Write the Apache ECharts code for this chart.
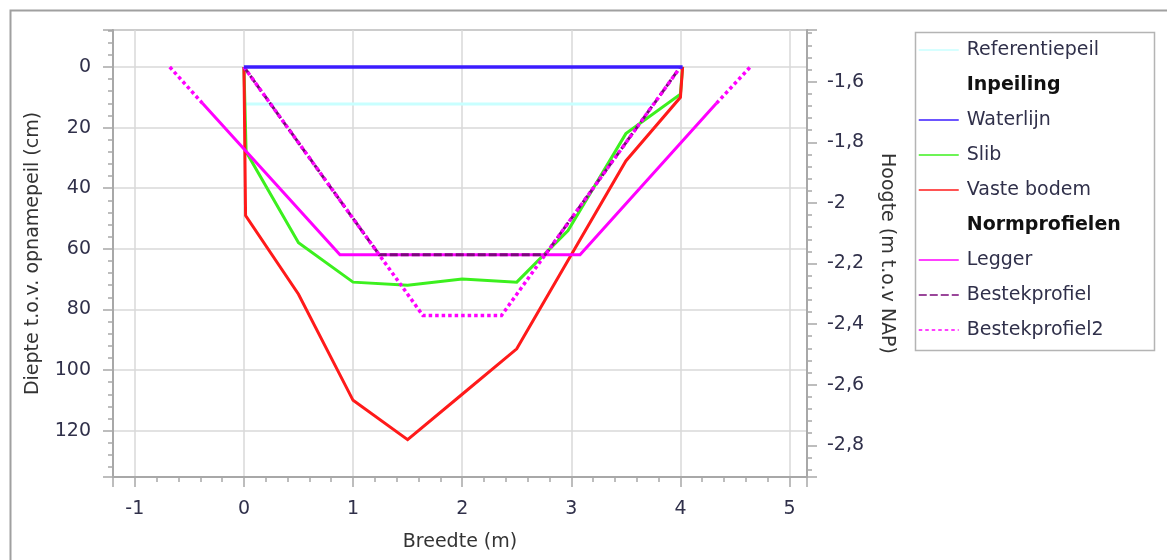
<!DOCTYPE html>
<html><head><meta charset="utf-8">
<script src="https://cdn.jsdelivr.net/npm/echarts@6/dist/echarts.min.js"></script>
<style>html,body{margin:0;padding:0;background:#fff}#c{width:1167px;height:560px}</style>
</head><body><div id="c"></div>
<script>
// ---- data (x = Breedte in m, y = Diepte t.o.v. opnamepeil in cm) ----
const referentiepeil = [[0, 12.2], [3.76, 12.2]];
const waterlijn = [[0, 0], [4.02, 0]];
const slib = [[0, 0], [0.02, 28], [0.5, 58], [1, 71], [1.5, 72], [2, 70], [2.5, 71], [2.97, 54], [3.5, 22], [4, 9], [4.02, 0]];
const vasteBodem = [[0, 0], [0.015, 49], [0.5, 75], [1, 110], [1.5, 123], [2, 108], [2.5, 93], [3, 62], [3.5, 31], [4, 10], [4.02, 0]];
const legger = [[-0.38, 12], [0.88, 62], [3.08, 62], [4.33, 12]];
const leggerExtLeft = [[-0.68, 0], [-0.38, 12]];
const leggerExtRight = [[4.33, 12], [4.64, 0]];
const bestekprofiel = [[0, 0], [1.24, 62], [2.76, 62], [4, 0]];
const bestekprofiel2 = [[0, 0], [1.64, 82], [2.36, 82], [4, 0]];

const legendNames = ['Referentiepeil', 'Inpeiling', 'Waterlijn', 'Slib', 'Vaste bodem', 'Normprofielen', 'Legger', 'Bestekprofiel', 'Bestekprofiel2'];
const legendHeaders = ['Inpeiling', 'Normprofielen'];

// axis ranges
const xRange = [-1.2, 5.16];
const depthRange = [-12.2, 135.3];
const napAtZero = -1.5515; // m t.o.v. NAP at depth 0

const FONT = 'DejaVu Sans';
const FS = 19;
const LABEL_COLOR = '#30304a';
const AXIS_COLOR = '#a8a8a8';
const GRID_COLOR = '#d9d9d9';

const chart = echarts.init(document.getElementById('c'), null, {renderer: 'canvas'});

const tickStyle = {color: AXIS_COLOR, width: 1.5};
function baseAxis() {
  return {
    type: 'value',
    axisLine: {show: true, onZero: false, lineStyle: {color: AXIS_COLOR, width: 2}},
    axisTick: {show: true, length: 10, lineStyle: tickStyle},
    minorTick: {show: true, splitNumber: 5, length: 5, lineStyle: tickStyle},
    axisLabel: {showMinLabel: false, showMaxLabel: false, fontFamily: FONT, fontSize: FS, color: LABEL_COLOR},
    nameTextStyle: {fontFamily: FONT, fontSize: FS, color: '#333333'},
    nameLocation: 'middle'
  };
}

const xAxis = Object.assign(baseAxis(), {
  min: xRange[0], max: xRange[1], minInterval: 1, maxInterval: 1,
  splitLine: {show: true, lineStyle: {color: GRID_COLOR, width: 1.5}},
  name: 'Breedte (m)', nameGap: 56
});
xAxis.axisLabel.margin = 23;

const yLeft = Object.assign(baseAxis(), {
  position: 'left', inverse: true,
  min: depthRange[0], max: depthRange[1], minInterval: 20, maxInterval: 20,
  splitLine: {show: true, lineStyle: {color: GRID_COLOR, width: 1.5}},
  name: 'Diepte t.o.v. opnamepeil (cm)', nameGap: 70
});
yLeft.axisLabel.margin = 22;

const yRight = Object.assign(baseAxis(), {
  position: 'right',
  min: napAtZero - depthRange[1] / 100, max: napAtZero - depthRange[0] / 100,
  minInterval: 0.2, maxInterval: 0.2,
  splitLine: {show: false},
  name: 'Hoogte (m t.o.v NAP)', nameGap: 70, nameRotate: -90
});
yRight.axisLabel.margin = 20;
yRight.axisLabel.formatter = v => String(Math.round(v * 100) / 100).replace('.', ',');

function lineSeries(name, data, color, width, type) {
  return {
    name: name, type: 'line', data: data, symbol: 'none', showSymbol: false,
    xAxisIndex: 0, yAxisIndex: 0, animation: false, silent: true,
    lineStyle: {color: color, width: width, type: type || 'solid', cap: 'butt', join: 'miter'},
    itemStyle: {color: color}
  };
}

const hidden = 'rgba(0,0,0,0)';
const series = [
  lineSeries('Referentiepeil', referentiepeil, '#c8ffff', 3),
  lineSeries('Inpeiling', [], hidden, 0),
  lineSeries('Slib', slib, '#3cf01e', 3),
  lineSeries('Vaste bodem', vasteBodem, '#ff1a1a', 3),
  lineSeries('Normprofielen', [], hidden, 0),
  lineSeries('Legger', legger, '#ff00ff', 3),
  lineSeries('Bestekprofiel', bestekprofiel, '#7a0a7a', 3, [8, 3]),
  lineSeries('Bestekprofiel2', bestekprofiel2, '#ff00ff', 3.5, [3.5, 3]),
  lineSeries('Bestekprofiel2', leggerExtLeft, '#ff00ff', 3.5, [3.5, 3]),
  lineSeries('Bestekprofiel2', leggerExtRight, '#ff00ff', 3.5, [3.5, 3]),
  lineSeries('Waterlijn', waterlijn, '#3b1cff', 3.5)
];

const legendData = legendNames.map(n => legendHeaders.indexOf(n) >= 0
  ? {name: n, textStyle: {fontWeight: 'bold', color: '#111111'}, lineStyle: {opacity: 0}}
  : {name: n});

chart.setOption({
  animation: false,
  backgroundColor: '#ffffff',
  grid: {left: 113, top: 30, width: 694, height: 447, show: true, borderColor: AXIS_COLOR, borderWidth: 2, containLabel: false},
  xAxis: [xAxis],
  yAxis: [yLeft, yRight],
  legend: {
    orient: 'vertical', left: 918, top: 40, padding: 0,
    itemWidth: 40, itemHeight: 20, itemGap: 15, selectedMode: false,
    itemStyle: {opacity: 0},
    lineStyle: {width: 1.5},
    textStyle: {fontFamily: FONT, fontSize: FS, color: LABEL_COLOR, lineHeight: 20, padding: [0, 0, 0, 3]},
    data: legendData
  },
  graphic: [
    {type: 'rect', left: 8, top: 8, shape: {width: 1175, height: 570}, style: {fill: 'none', stroke: '#a0a0a0', lineWidth: 2}, silent: true, z: -1},
    {type: 'rect', left: 913, top: 30, shape: {width: 239, height: 318}, style: {fill: 'none', stroke: '#b4b4b4', lineWidth: 1.5}, silent: true, z: -1}
  ],
  series: series
});
</script>
</body></html>
